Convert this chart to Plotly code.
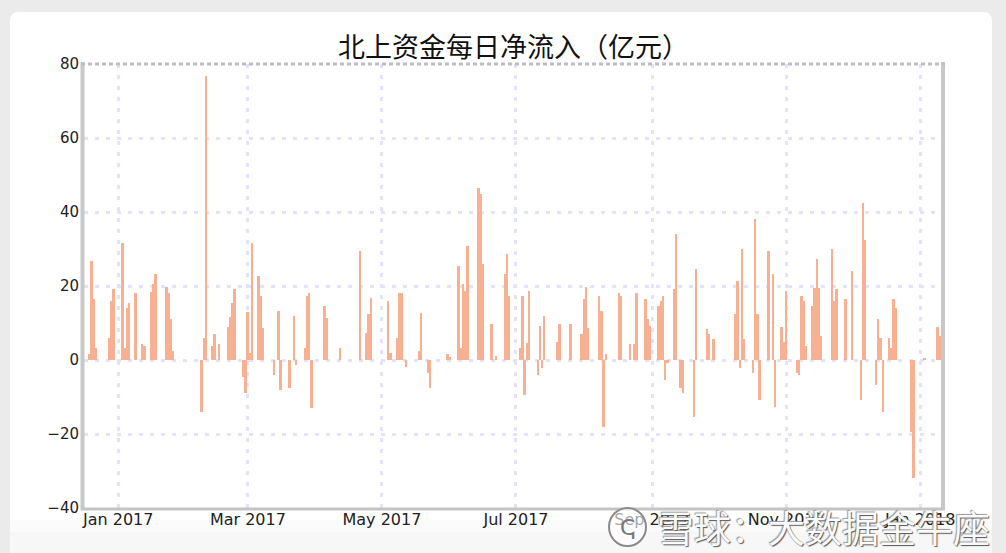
import plotly.graph_objects as go

# ---- data (net northbound inflow, 100m CNY) ----
dates = [
    "2016-12-19", "2016-12-20", "2016-12-21", "2016-12-22", "2016-12-28", "2016-12-29", "2016-12-30",
    "2017-01-03", "2017-01-04", "2017-01-05", "2017-01-06", "2017-01-09", "2017-01-12", "2017-01-13",
    "2017-01-16", "2017-01-17", "2017-01-18", "2017-01-23", "2017-01-24", "2017-01-25", "2017-01-26",
    "2017-02-08", "2017-02-09", "2017-02-10", "2017-02-13", "2017-02-14", "2017-02-16",
    "2017-02-20", "2017-02-21", "2017-02-22", "2017-02-23", "2017-02-27", "2017-02-28",
    "2017-03-01", "2017-03-02", "2017-03-03", "2017-03-06", "2017-03-07", "2017-03-08",
    "2017-03-13", "2017-03-15", "2017-03-16", "2017-03-20", "2017-03-22", "2017-03-23",
    "2017-03-27", "2017-03-28", "2017-03-29", "2017-03-30",
    "2017-04-05", "2017-04-06", "2017-04-12", "2017-04-21", "2017-04-24", "2017-04-25", "2017-04-26",
    "2017-05-04", "2017-05-05", "2017-05-08", "2017-05-09", "2017-05-10", "2017-05-12",
    "2017-05-18", "2017-05-19", "2017-05-22", "2017-05-23",
    "2017-05-31", "2017-06-01", "2017-06-05", "2017-06-06", "2017-06-07", "2017-06-08", "2017-06-09",
    "2017-06-14", "2017-06-15", "2017-06-16", "2017-06-20", "2017-06-22",
    "2017-06-26", "2017-06-27", "2017-06-28",
    "2017-07-03", "2017-07-04", "2017-07-05", "2017-07-06", "2017-07-07",
    "2017-07-11", "2017-07-12", "2017-07-13", "2017-07-14",
    "2017-07-20", "2017-07-21", "2017-07-26",
    "2017-07-31", "2017-08-01", "2017-08-02", "2017-08-03",
    "2017-08-08", "2017-08-09", "2017-08-10", "2017-08-11",
    "2017-08-17", "2017-08-18", "2017-08-22", "2017-08-24", "2017-08-25",
    "2017-08-29", "2017-08-30", "2017-08-31",
    "2017-09-04", "2017-09-05", "2017-09-06", "2017-09-07", "2017-09-08",
    "2017-09-11", "2017-09-12", "2017-09-14", "2017-09-15",
    "2017-09-20", "2017-09-21", "2017-09-26", "2017-09-27", "2017-09-29",
    "2017-10-09", "2017-10-10", "2017-10-11", "2017-10-12", "2017-10-13",
    "2017-10-17", "2017-10-18", "2017-10-19", "2017-10-20",
    "2017-10-24", "2017-10-26", "2017-10-27",
    "2017-10-30", "2017-10-31", "2017-11-01",
    "2017-11-06", "2017-11-07", "2017-11-08", "2017-11-09", "2017-11-10",
    "2017-11-13", "2017-11-14", "2017-11-15", "2017-11-16", "2017-11-17",
    "2017-11-22", "2017-11-23", "2017-11-24", "2017-11-28", "2017-12-01",
    "2017-12-05", "2017-12-06", "2017-12-07",
    "2017-12-12", "2017-12-13", "2017-12-14", "2017-12-15", "2017-12-18",
    "2017-12-19", "2017-12-20", "2017-12-21",
    "2017-12-28", "2017-12-29",
    "2018-01-03", "2018-01-09", "2018-01-10",
]
net_inflow = [
    1.6, 26.8, 16.6, 3.2, 5.9, 16.0, 19.1,
    31.5, 3.2, 14.0, 15.5, 18.0, 4.3, 3.9,
    18.5, 20.5, 23.2, 19.8, 18.0, 11.2, 2.5,
    -14.1, 5.9, 76.8, 3.9, 7.1, 4.4,
    8.9, 11.6, 15.3, 19.1, -4.6, -9.0,
    13.0, 2.0, 31.5, 22.7, 17.3, 8.6,
    -4.0, 13.2, -8.2, -7.5, 11.8, -1.3,
    3.2, 17.3, 18.2, -12.9,
    14.5, 11.4, 3.2, 29.5, 7.3, 12.5, 16.8,
    15.9, 1.8, 5.9, 18.2, 18.2, -2.0,
    2.5, 12.7, -3.6, -7.5,
    1.5, 0.9, 25.5, 3.2, 20.5, 18.6, 30.9,
    46.4, 45.0, 25.9, 9.8, 1.2,
    23.2, 28.6, 17.3,
    3.2, 17.3, -9.5, 4.5, 18.6,
    -4.1, 9.1, -2.1, 11.8,
    5.0, 9.8, 9.8,
    7.1, 16.6, 19.8, 8.6,
    17.3, 13.2, -18.2, 1.6,
    18.0, 17.3, 4.4, 4.4, 18.0,
    16.6, 11.2, 9.1,
    14.5, 15.9, 17.3, -5.5, -0.7,
    19.1, 34.1, -7.5, -8.9,
    -15.5, 24.5, 8.5, 7.1, 5.7,
    12.5, 21.4, -2.1, 30.0, 5.7,
    -3.6, 38.2, 12.5, -10.9,
    29.5, 23.2, -12.7,
    8.9, 5.0, 18.6,
    -3.6, -4.1, 17.3, 15.9, 3.9,
    14.5, 19.4, 27.3, 19.5, 6.4,
    30.0, 15.9, 19.1, 16.6, 24.1,
    -10.9, 42.3, 32.3,
    -6.8, 11.2, 5.9, -14.1, 5.9,
    3.2, 16.6, 14.1,
    -19.5, -31.8,
    0.5, 8.9, 6.4,
]
y_ticks = [-40, -20, 0, 20, 40, 60, 80]
title_text = "北上资金每日净流入（亿元）"
watermark = "雪球：大数据金牛座"

# ---- figure geometry (pixels) ----
W, H = 1006, 553
L, R, T, B = 84, 943, 64, 508
PW, PH = R - L, B - T


def px(x):
    return (x - L) / PW


def py(y):
    return (B - y) / PH


DAY_MS = 86400000

fig = go.Figure()
fig.add_trace(go.Bar(
    x=dates, y=net_inflow,
    width=DAY_MS * 0.85,
    marker=dict(color="rgb(248,176,146)", line=dict(width=0)),
    hoverinfo="x+y",
))

# card background with rounded corners
cx0, cx1, cy0, cy1, r = px(10), px(992), py(12), py(570), 9 / PW
ry = 9 / PH
card = (f"M {cx0 + r},{cy0} L {cx1 - r},{cy0} Q {cx1},{cy0} {cx1},{cy0 - ry} "
        f"L {cx1},{cy1} L {cx0},{cy1} L {cx0},{cy0 - ry} Q {cx0},{cy0} {cx0 + r},{cy0} Z")

shapes = [
    dict(type="path", path=card, xref="paper", yref="paper", layer="below",
         fillcolor="#ffffff", line=dict(width=0)),
    dict(type="rect", xref="paper", yref="paper", layer="below",
         x0=px(10), x1=px(992), y0=py(532), y1=py(570),
         fillcolor="#f7f7f7", line=dict(width=0)),
    dict(type="rect", xref="paper", yref="paper", layer="below",
         x0=px(10), x1=px(992), y0=py(520), y1=py(532),
         fillcolor="#fbfbfb", line=dict(width=0)),
    # frame
    dict(type="line", xref="paper", yref="paper", x0=px(82.5), x1=px(82.5), y0=py(62), y1=py(510),
         line=dict(color="#c8c8c8", width=4)),
    dict(type="line", xref="paper", yref="paper", x0=px(943), x1=px(943), y0=py(62), y1=py(510),
         line=dict(color="#c8c8c8", width=4)),
    dict(type="line", xref="paper", yref="paper", x0=px(81), x1=px(945), y0=py(509), y1=py(509),
         line=dict(color="#c4c4c4", width=3)),
    dict(type="line", xref="paper", yref="paper", x0=px(81), x1=px(945), y0=py(64), y1=py(64),
         line=dict(color="#bcbccc", width=3, dash="4px,3px")),
    # watermark logo
    dict(type="circle", xref="paper", yref="paper", x0=px(609), x1=px(646), y0=py(546), y1=py(508),
         line=dict(color="#8a8a8a", width=2), fillcolor="rgba(255,255,255,0.6)"),
]

annotations = [
    dict(text=watermark, xref="paper", yref="paper", x=px(655), y=py(527),
         xanchor="left", yanchor="middle", showarrow=False,
         font=dict(family="Noto Sans CJK SC", size=37, color="#fafafa",
                   shadow="1px 1px 1px #555, -1px -1px 1px #999")),
    dict(text="ↅ", xref="paper", yref="paper", x=px(627.5), y=py(527),
         xanchor="center", yanchor="middle", showarrow=False,
         font=dict(family="DejaVu Sans", size=22, color="#777")),
]

grid = dict(showgrid=True, gridcolor="#e2e2fa", gridwidth=3, griddash="4px,7px")

fig.update_layout(
    width=W, height=H,
    margin=dict(l=L, r=W - R, t=T, b=H - B, pad=0),
    paper_bgcolor="#ebebeb",
    plot_bgcolor="#ffffff",
    showlegend=False,
    bargap=0,
    title=dict(text=title_text, x=px((L + R) / 2), xref="paper", xanchor="center",
               y=1 - 48 / H, yanchor="middle",
               font=dict(family="Noto Sans CJK SC", size=27, color="#111111")),
    xaxis=dict(
        type="date",
        range=["2016-12-16 10:00", "2018-01-11 08:00"],
        tick0="2017-01-01", dtick="M2", tickformat="%b %Y",
        tickfont=dict(family="DejaVu Sans", size=16, color="#222222"),
        ticks="", showline=False, zeroline=False,
        **grid,
    ),
    yaxis=dict(
        range=[-40, 80], tickvals=y_ticks,
        tickfont=dict(family="DejaVu Sans", size=15, color="#222222"),
        ticks="", showline=False, zeroline=False, ticklabelstandoff=4,
        **grid,
    ),
    shapes=shapes,
    annotations=annotations,
)

fig.write_html(
    "out.html",
    config={"displayModeBar": False},
    post_script="document.body.style.margin='0';document.body.style.padding='0';"
                "document.documentElement.style.margin='0';",
)
